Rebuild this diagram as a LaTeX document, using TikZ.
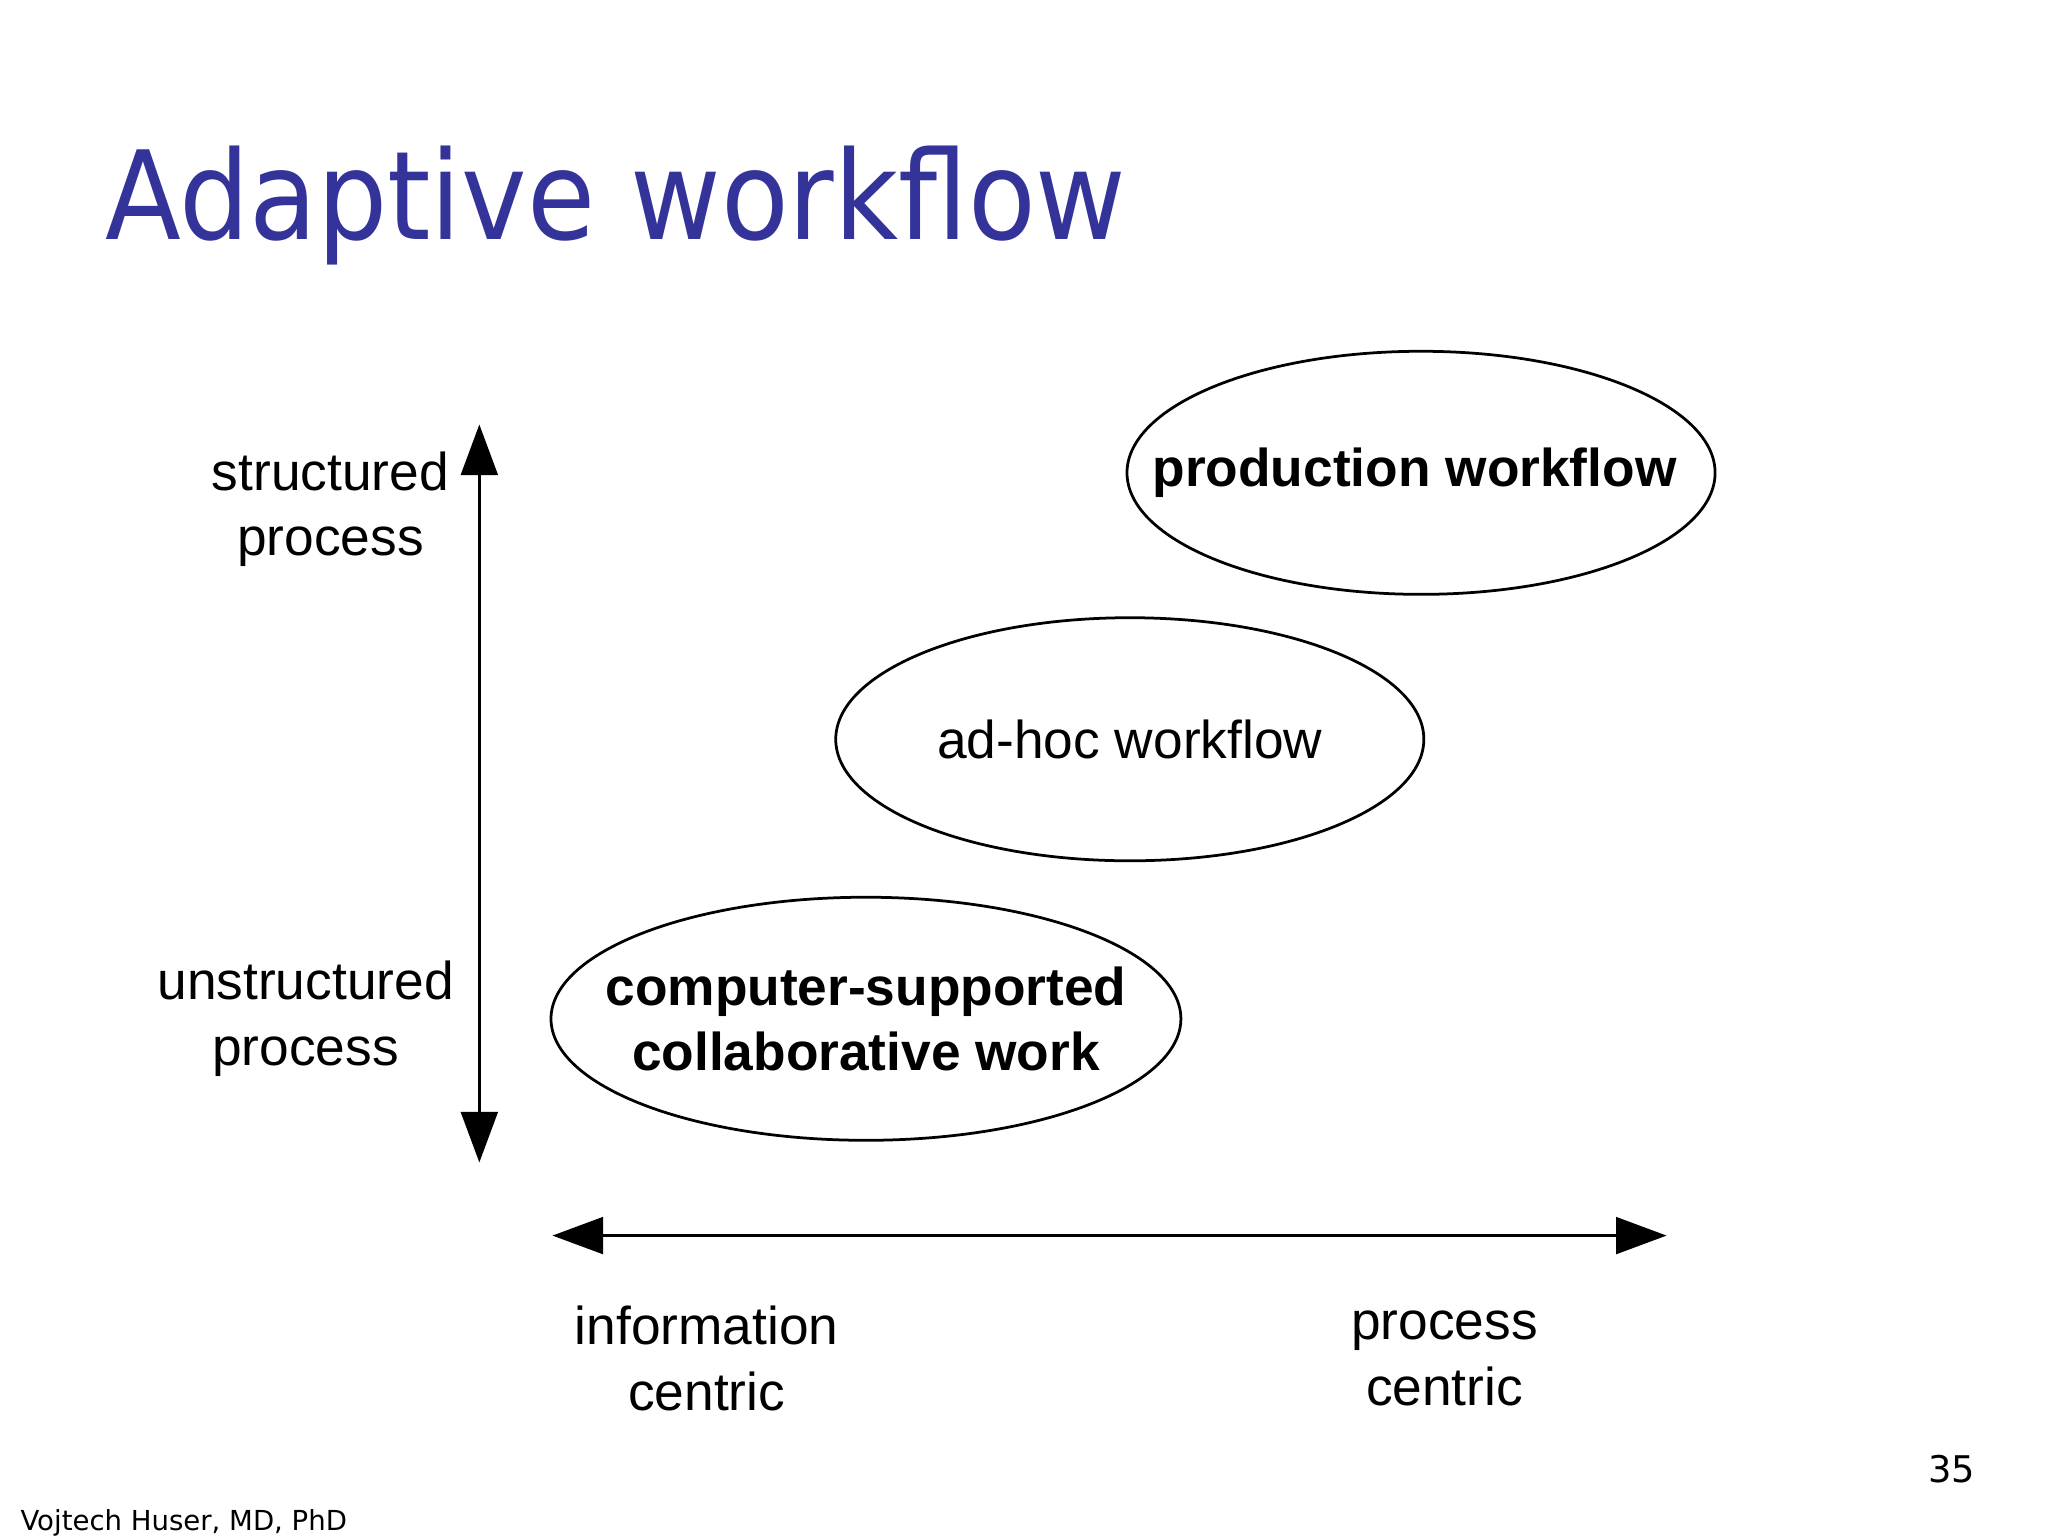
\documentclass[tikz,border=0pt]{standalone}
\usepackage{fontspec}
\setmainfont{Liberation Sans}
\newfontfamily\titlefont{DejaVu Sans Condensed}
\newfontfamily\footfont{DejaVu Sans}
\usetikzlibrary{arrows.meta,shapes.geometric}
\definecolor{titleblue}{RGB}{51,51,153}
\begin{document}
\begin{tikzpicture}[x=0.01cm,y=-0.01cm,
  lbl/.style={align=center,font=\fontsize{11.6}{14.2}\selectfont},
  ell/.style={draw,line width=0.6pt,ellipse,inner sep=0pt},
  axis/.style={line width=0.6pt,{Triangle[length=11pt,width=8pt]}-{Triangle[length=11pt,width=8pt]}}]
\useasboundingbox (0,0) rectangle (1568,1176);
\node[anchor=base west,inner sep=0,text=titleblue,font=\titlefont\fontsize{26.8}{30}\selectfont] (title) at (80,183) {Adaptive workflow};
\node[ell,minimum width=4.5cm,minimum height=1.86cm] (prod) at (1088,362) {};
\node[lbl,font=\bfseries\fontsize{11.6}{14.2}\selectfont] at (1083,362) {production workflow};
\node[ell,minimum width=4.5cm,minimum height=1.86cm] (adhoc) at (865,566) {};
\node[lbl] at (adhoc) {ad-hoc workflow};
\node[ell,minimum width=4.82cm,minimum height=1.86cm] (cscw) at (663,780) {};
\node[lbl,font=\bfseries\fontsize{11.6}{14.2}\selectfont] at (cscw) {computer-supported\\collaborative work};
\coordinate (vtop) at (367,325);
\coordinate (vbot) at (367,890);
\coordinate (hl) at (423,946);
\coordinate (hr) at (1276,946);
\draw[axis] (vbot) -- (vtop);
\draw[axis] (hl) -- (hr);
\node[lbl] (sp) at (253,390) {structured\\process};
\node[lbl] (up) at (234,780) {unstructured\\process};
\node[lbl] (ic) at (541,1040) {information\\centric};
\node[lbl] (pc) at (1106,1040) {process\\centric};
\node[anchor=base east,inner sep=0,font=\footfont\fontsize{8}{9}\selectfont] (pg) at (1513,1135) {35};
\node[anchor=base west,inner sep=0,font=\footfont\fontsize{6}{7}\selectfont] (ft) at (15,1172) {Vojtech Huser, MD, PhD};
\end{tikzpicture}
\end{document}
